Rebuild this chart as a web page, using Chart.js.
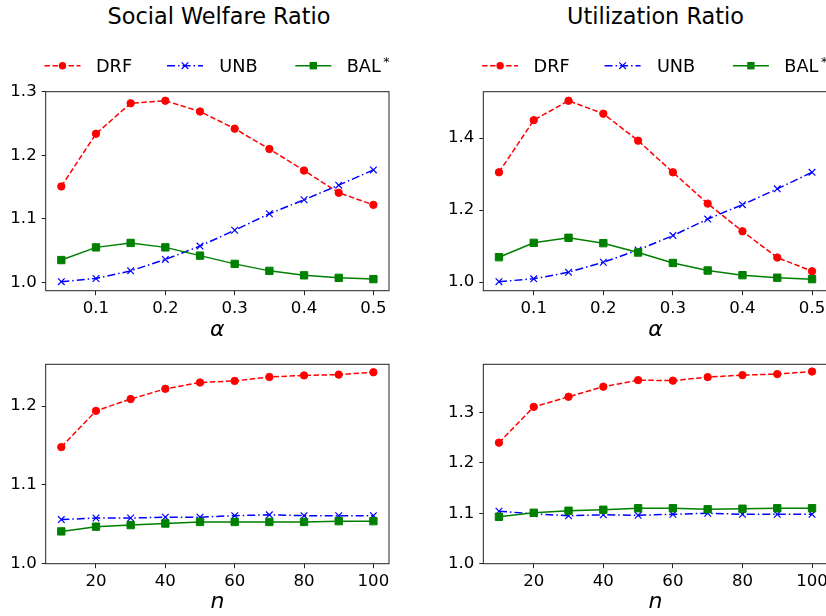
<!DOCTYPE html>
<html><head><meta charset="utf-8">
<script src="https://cdn.jsdelivr.net/npm/chart.js@4.4.1/dist/chart.umd.min.js"></script>
<style>
html,body{margin:0;padding:0;background:#fff;}
body{width:826px;height:616px;overflow:hidden;position:relative;font-family:'DejaVu Sans',sans-serif;}
canvas{position:absolute;}
.title{position:absolute;font-size:22.4px;line-height:26px;white-space:nowrap;transform:translateX(-50%);color:#000;}
</style></head><body>
<div class="title" style="left:219px;top:3px">Social Welfare Ratio</div>
<div class="title" style="left:655.5px;top:3px">Utilization Ratio</div>
<canvas id="c1" width="413" height="346" style="left:0;top:0"></canvas>
<canvas id="c2" width="413" height="346" style="left:438px;top:0"></canvas>
<canvas id="c3" width="413" height="272" style="left:0;top:346px"></canvas>
<canvas id="c4" width="413" height="272" style="left:438px;top:346px"></canvas>
<script>
// ---------- data ----------
const alphaValues = [0.05, 0.10, 0.15, 0.20, 0.25, 0.30, 0.35, 0.40, 0.45, 0.50];
const nValues = [10, 20, 30, 40, 50, 60, 70, 80, 90, 100];

const swAlphaDRF = [1.151, 1.234, 1.282, 1.286, 1.269, 1.242, 1.210, 1.176, 1.141, 1.122];
const swAlphaUNB = [1.001, 1.006, 1.018, 1.036, 1.057, 1.082, 1.108, 1.130, 1.153, 1.177];
const swAlphaBAL = [1.035, 1.055, 1.062, 1.055, 1.042, 1.029, 1.018, 1.011, 1.007, 1.005];

const utAlphaDRF = [1.305, 1.450, 1.504, 1.468, 1.393, 1.305, 1.218, 1.141, 1.068, 1.030];
const utAlphaUNB = [1.001, 1.009, 1.027, 1.055, 1.089, 1.129, 1.175, 1.215, 1.259, 1.305];
const utAlphaBAL = [1.069, 1.109, 1.123, 1.108, 1.082, 1.053, 1.032, 1.019, 1.012, 1.008];

const swNDRF = [1.148, 1.194, 1.209, 1.222, 1.230, 1.232, 1.237, 1.239, 1.240, 1.243];
const swNUNB = [1.056, 1.058, 1.058, 1.059, 1.059, 1.061, 1.062, 1.061, 1.061, 1.061];
const swNBAL = [1.041, 1.047, 1.049, 1.051, 1.053, 1.053, 1.053, 1.053, 1.054, 1.054];

const utNDRF = [1.240, 1.311, 1.331, 1.351, 1.364, 1.363, 1.370, 1.374, 1.376, 1.381];
const utNUNB = [1.104, 1.099, 1.095, 1.097, 1.096, 1.098, 1.100, 1.098, 1.098, 1.098];
const utNBAL = [1.093, 1.101, 1.105, 1.107, 1.110, 1.110, 1.108, 1.109, 1.110, 1.110];

const alphaTicks = [0.1, 0.2, 0.3, 0.4, 0.5];
const nTicks = [20, 40, 60, 80, 100];
const swAlphaYTicks = [1.0, 1.1, 1.2, 1.3];
const utAlphaYTicks = [1.0, 1.2, 1.4];
const swNYTicks = [1.0, 1.1, 1.2];
const utNYTicks = [1.0, 1.1, 1.2, 1.3];

const seriesNames = ['DRF', 'UNB', 'BAL'];

// ---------- styles ----------
const FONT = "'DejaVu Sans'";
const styles = {
  DRF: {color: '#ff0000', dash: [5.5, 2.5], pointStyle: 'circle', radius: 3.7, bw: 1, order: 3},
  UNB: {color: '#0000ff', dash: [8, 3, 1.5, 3], pointStyle: 'crossRot', radius: 4.7, bw: 1.2, order: 2},
  BAL: {color: '#008000', dash: [], pointStyle: 'rect', radius: 5.2, bw: 1, order: 1}
};

function drawMarker(ctx, st, x, y) {
  ctx.save();
  ctx.setLineDash([]);
  ctx.fillStyle = st.color; ctx.strokeStyle = st.color; ctx.lineWidth = st.bw;
  ctx.beginPath();
  if (st.pointStyle === 'circle') {
    ctx.arc(x, y, st.radius, 0, Math.PI * 2); ctx.fill();
  } else if (st.pointStyle === 'rect') {
    const h = st.radius * Math.SQRT1_2;
    ctx.rect(x - h, y - h, 2 * h, 2 * h); ctx.fill();
  } else {
    const d = st.radius * Math.SQRT1_2;
    ctx.moveTo(x - d, y - d); ctx.lineTo(x + d, y + d);
    ctx.moveTo(x - d, y + d); ctx.lineTo(x + d, y - d); ctx.stroke();
  }
  ctx.restore();
}

const framePlugin = {
  id: 'frame',
  afterDraw(chart, args, opts) {
    const {ctx, chartArea: a} = chart;
    ctx.save();
    ctx.strokeStyle = '#222'; ctx.lineWidth = 1;
    ctx.strokeRect(a.left, a.top, a.right - a.left, a.bottom - a.top);
    ctx.restore();
    if (opts && opts.legend) {
      const left = a.left, y = 65.7;
      const items = [
        {c: 16.8, tx: 50.3, name: 'DRF'},
        {c: 139.3, tx: 173.6, name: 'UNB'},
        {c: 267.6, tx: 301, name: 'BAL', sup: '*'}
      ];
      items.forEach(it => {
        const st = styles[it.name];
        ctx.save();
        ctx.strokeStyle = st.color; ctx.lineWidth = 1.5; ctx.setLineDash(st.dash);
        ctx.beginPath(); ctx.moveTo(left + it.c - 18, y); ctx.lineTo(left + it.c + 18, y); ctx.stroke();
        ctx.restore();
        drawMarker(ctx, st, left + it.c, y);
        ctx.save();
        ctx.fillStyle = '#000'; ctx.textBaseline = 'alphabetic'; ctx.textAlign = 'left';
        ctx.font = '17.7px ' + FONT;
        ctx.fillText(it.name, left + it.tx, 72.3);
        if (it.sup) {
          const w = ctx.measureText(it.name).width;
          ctx.font = '12.5px ' + FONT;
          ctx.fillText(it.sup, left + it.tx + w + 2.5, 65.5);
        }
        ctx.restore();
      });
    }
  }
};

function makeDatasets(xs, arrs) {
  return seriesNames.map((name, k) => {
    const st = styles[name];
    return {
      label: name,
      data: xs.map((x, i) => ({x: x, y: arrs[k][i]})),
      borderColor: st.color, backgroundColor: st.color,
      borderWidth: 1.5, borderDash: st.dash,
      pointStyle: st.pointStyle, pointRadius: st.radius,
      pointBorderWidth: st.bw, pointBackgroundColor: st.color, pointBorderColor: st.color,
      tension: 0, order: st.order, fill: false
    };
  });
}

function range(vals, fixedMin) {
  const all = [].concat(...vals);
  const lo = Math.min(...all), hi = Math.max(...all);
  const m = 0.05 * (hi - lo);
  return fixedMin !== undefined ? [fixedMin, hi + m] : [lo - m, hi + m];
}

function makeChart(id, xs, arrs, xTicks, yTicks, xLabel, xFmt, yFixedMin, top, xHeight, legend, yWidth, rightPad) {
  const [xmin, xmax] = range([xs]);
  const [ymin, ymax] = range(arrs, yFixedMin);
  const tickFont = {family: FONT, size: 16.6};
  new Chart(document.getElementById(id), {
    type: 'line',
    data: {datasets: makeDatasets(xs, arrs)},
    plugins: [framePlugin],
    options: {
      responsive: false, animation: false, events: [],
      layout: {padding: {top: top, right: rightPad, bottom: 0, left: 0}},
      plugins: {legend: {display: false}, tooltip: {enabled: false}, title: {display: false}, frame: {legend: legend}},
      scales: {
        x: {
          type: 'linear', min: xmin, max: xmax,
          afterBuildTicks: s => { s.ticks = xTicks.map(v => ({value: v})); },
          afterFit: s => { s.height = xHeight; },
          ticks: {font: tickFont, color: '#000', padding: 4, maxRotation: 0, autoSkip: false,
                  callback: v => xFmt(v)},
          grid: {drawOnChartArea: false, drawTicks: true, tickLength: 4.5, tickColor: '#222', tickWidth: 1},
          border: {display: false},
          title: {display: true, text: xLabel, color: '#000',
                  font: {family: FONT, size: 22, style: 'italic'}, padding: {top: 0, bottom: 3}}
        },
        y: {
          type: 'linear', min: ymin, max: ymax,
          afterBuildTicks: s => { s.ticks = yTicks.map(v => ({value: v})); },
          afterFit: s => { s.width = yWidth; },
          ticks: {font: tickFont, color: '#000', padding: 5, autoSkip: false,
                  callback: v => Number(v).toFixed(1)},
          grid: {drawOnChartArea: false, drawTicks: true, tickLength: 4, tickColor: '#222', tickWidth: 1},
          border: {display: false}
        }
      }
    }
  });
}

const fmtAlpha = v => Number(v).toFixed(1);
const fmtN = v => String(v);

makeChart('c1', alphaValues, [swAlphaDRF, swAlphaUNB, swAlphaBAL], alphaTicks, swAlphaYTicks, 'α', fmtAlpha, undefined, 91.7, 55.3, true, 45.7, 24);
makeChart('c2', alphaValues, [utAlphaDRF, utAlphaUNB, utAlphaBAL], alphaTicks, utAlphaYTicks, 'α', fmtAlpha, undefined, 91.7, 55.3, true, 45.3, 23.3);
makeChart('c3', nValues, [swNDRF, swNUNB, swNBAL], nTicks, swNYTicks, 'n', fmtN, 1.0, 18.3, 54.3, false, 45.7, 24);
makeChart('c4', nValues, [utNDRF, utNUNB, utNBAL], nTicks, utNYTicks, 'n', fmtN, 1.0, 18.3, 54.3, false, 45.3, 23.3);
</script>
</body></html>
